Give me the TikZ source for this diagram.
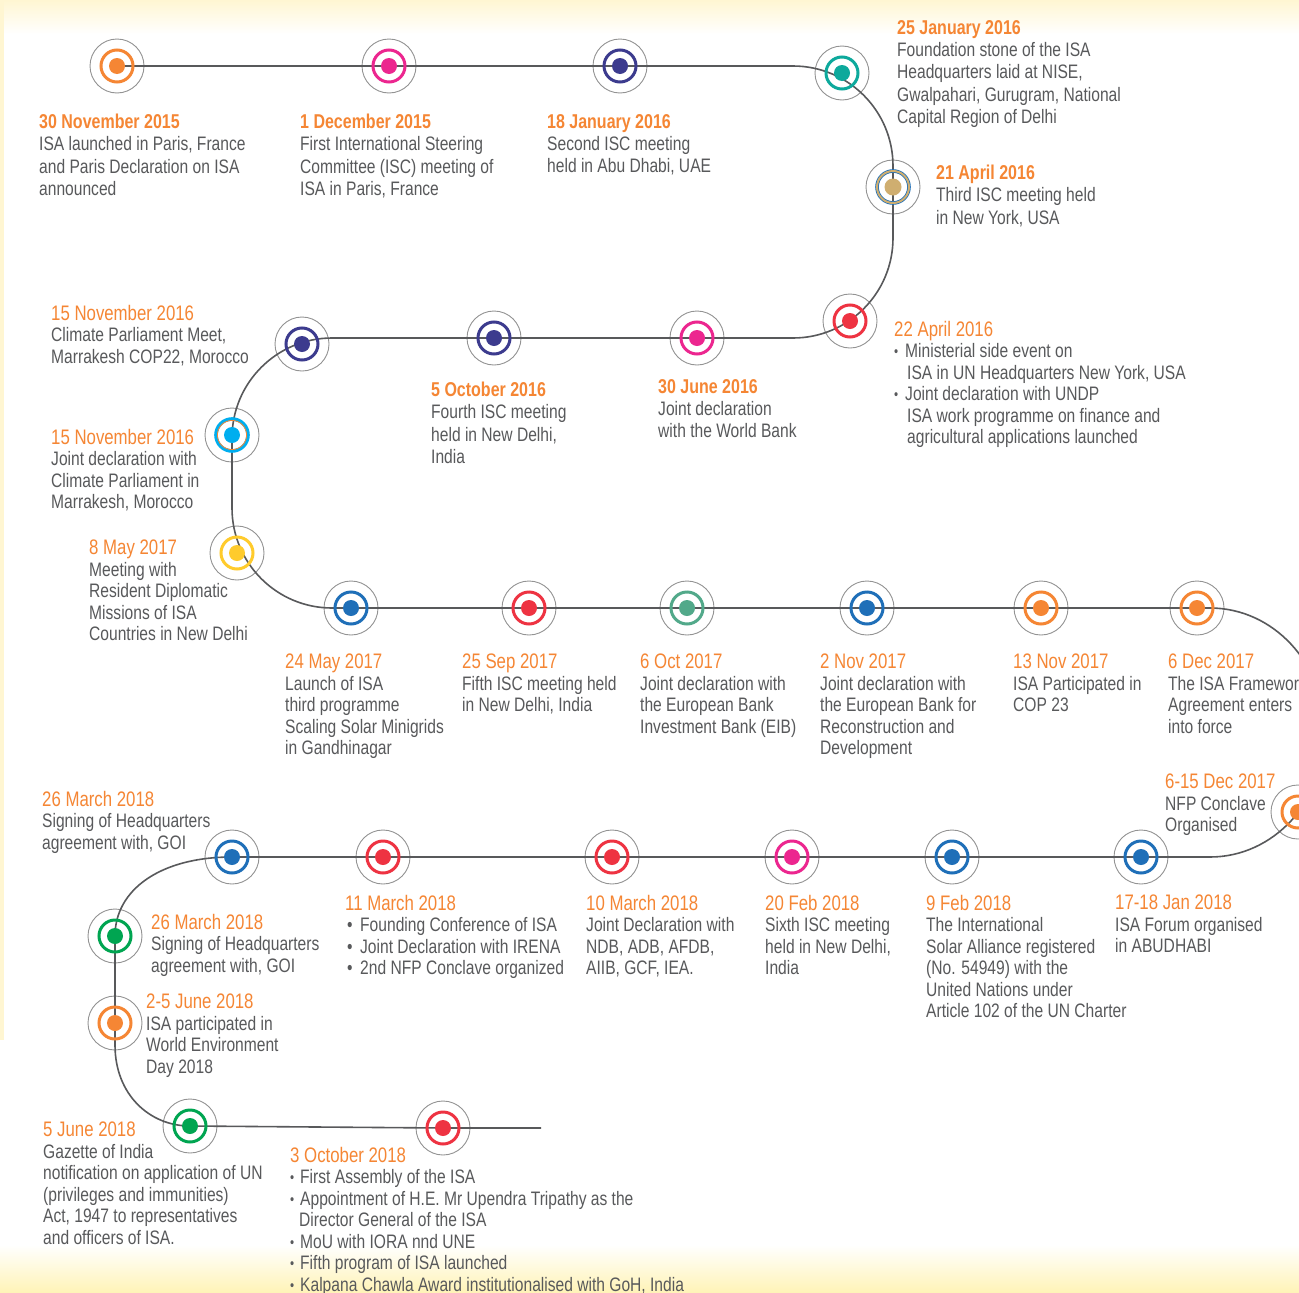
\documentclass[tikz,border=0pt]{standalone}
\usepackage{fontspec}
\setmainfont{Liberation Sans}[FakeStretch=0.8]

\definecolor{isaorange}{HTML}{F58634}
\definecolor{isagray}{HTML}{58595B}
\definecolor{isapink}{HTML}{EC268F}
\definecolor{isaindigo}{HTML}{3C3B8E}
\definecolor{isateal}{HTML}{0DA99C}
\definecolor{isatan}{HTML}{CFAE70}
\definecolor{isablue}{HTML}{1F6FB8}
\definecolor{isared}{HTML}{EE3342}
\definecolor{isacyan}{HTML}{00AEEF}
\definecolor{isayellow}{HTML}{FFCB2C}
\definecolor{isasage}{HTML}{52A98A}
\definecolor{isagreen}{HTML}{00A551}
\definecolor{isacream}{HTML}{FFF6D2}
\definecolor{isastraw}{HTML}{FFF3B6}

\tikzset{
    tline/.style={draw=isagray, line width=1.6pt},
    outring/.style={circle, draw=gray!85, line width=0.9pt, minimum size=54pt, inner sep=0pt},
    evtxt/.style={anchor=north west, inner sep=0pt, align=left, text=isagray, font=\fontsize{19.5}{22.3}\selectfont},
    evtxtb/.style={evtxt, font=\fontsize{19.5}{21.5}\selectfont},
}
\newcommand{\dtb}[1]{{\fontsize{20}{22.3}\selectfont\textcolor{isaorange}{\bfseries #1}}}
\newcommand{\dtr}[1]{{\fontsize{21}{21.5}\selectfont\textcolor{isaorange}{#1}}}
\newcommand{\bul}[1]{\makebox[#1][l]{\raisebox{1pt}{\scalebox{0.75}{\textbullet}}}}
\newcommand{\bigbul}{\makebox[15pt][l]{\hspace{2pt}\textbullet}}

\begin{document}
\begin{tikzpicture}[x=1pt,y=1pt]
        \useasboundingbox (0,0) rectangle (1299,-1293);
        \clip (0,0) rectangle (1299,-1293);
        \fill[white] (0,0) rectangle (1299,-1293);
        \shade[top color=isacream, bottom color=white] (0,0) rectangle (1299,-34);
        \shade[top color=white, bottom color=isastraw] (0,-1245) rectangle (1299,-1293);
        \fill[isacream] (0,0) rectangle (4,-1040);

        \foreach \nm/\x/\y in {n1/117/66, n2/389/66, n3/620/66, n4/842/73, n5/893/187, n6/850/321,
            n7/697/338, n8/494/338, n9/302/344, n10/232/435, n11/237/553, n12/351/608, n13/529/608,
            n14/687/608, n15/867/608, n16/1041/608, n17/1197/608, n18/1298/812, n19/1141/857,
            n20/952/857, n21/792/857, n22/612/857, n23/383/857, n24/232/857, n25/115/936,
            n26/115/1023, n27/190/1126, n28/443/1128}
            \node[outring] (\nm) at (\x,-\y) {};

        \draw[tline] (n1.center) -- (n2.center) -- (n3.center) -- (793,-66)
            arc[start angle=90, end angle=0, radius=100] -- (n5.center) -- (893,-238)
            arc[start angle=0, end angle=-90, radius=100] -- (n7.center) -- (n8.center) -- (332,-338)
            arc[start angle=90, end angle=180, radius=100] -- (n10.center) -- (232,-508)
            arc[start angle=180, end angle=270, radius=100] -- (n12.center) -- (n17.center) -- (1210,-608)
            arc[start angle=90, end angle=-90, x radius=115, y radius=124.5] -- (n19.center) -- (n24.center)
            .. controls (160,-857) and (115,-890) .. (n25.center) -- (n26.center) -- (115,-1045)
            .. controls (115,-1095) and (150,-1126) .. (n27.center) -- (n28.center) -- (541,-1128);

        \foreach \nm/\col in {n1/isaorange, n2/isapink, n3/isaindigo, n4/isateal, n6/isared, n7/isapink,
            n8/isaindigo, n9/isaindigo, n11/isayellow, n12/isablue, n13/isared, n14/isasage,
            n15/isablue, n16/isaorange, n17/isaorange, n18/isaorange, n19/isablue, n20/isablue,
            n21/isapink, n22/isared, n23/isared, n24/isablue, n25/isagreen, n26/isaorange,
            n27/isagreen, n28/isared}
        {
            \draw[\col, line width=3pt] (\nm.center) circle[radius=16];
            \fill[\col] (\nm.center) circle[radius=8];
        }
        % two-tone rings
        \draw[isablue, line width=3.6pt] (n5.center) circle[radius=16];
        \draw[isatan, line width=2pt] (n5.center) circle[radius=16];
        \fill[isatan] (n5.center) circle[radius=8.5];
        \draw[isacyan, line width=3.6pt] (n10.center) circle[radius=16];
        \draw[isaorange, line width=0.8pt] (n10.center) circle[radius=14.6];
        \fill[isacyan] (n10.center) circle[radius=8];

        \node[evtxt] (t1) at (39,-114) {\dtb{30 November 2015}\\ISA launched in Paris, France\\and Paris Declaration on ISA\\announced};
        \node[evtxt] (t2) at (300,-114) {\dtb{1 December 2015}\\First International Steering\\Committee (ISC) meeting of\\ISA in Paris, France};
        \node[evtxt] (t3) at (547,-114) {\dtb{18 January 2016}\\Second ISC meeting\\held in Abu Dhabi, UAE};
        \node[evtxt] (t4) at (897,-20) {\dtb{25 January 2016}\\Foundation stone of the ISA\\Headquarters laid at NISE,\\Gwalpahari, Gurugram, National\\Capital Region of Delhi};
        \node[evtxt] (t5) at (936,-165) {\dtb{21 April 2016}\\Third ISC meeting held\\in New York, USA};
        \node[evtxtb] (t6) at (894,-321) {\dtr{22 April 2016}\\\bul{11pt}Ministerial side event on\\\hspace*{13pt}ISA in UN Headquarters New York, USA\\\bul{11pt}Joint declaration with UNDP\\\hspace*{13pt}ISA work programme on finance and\\\hspace*{13pt}agricultural applications launched};
        \node[evtxt] (t7) at (658,-379) {\dtb{30 June 2016}\\Joint declaration\\with the World Bank};
        \node[evtxt] (t8) at (431,-382) {\dtb{5 October 2016}\\Fourth ISC meeting\\held in New Delhi,\\India};
        \node[evtxtb] (t9) at (51,-305) {\dtr{15 November 2016}\\Climate Parliament Meet,\\Marrakesh COP22, Morocco};
        \node[evtxtb] (t10) at (51,-429) {\dtr{15 November 2016}\\Joint declaration with\\Climate Parliament in\\Marrakesh, Morocco};
        \node[evtxtb] (t11) at (89,-540) {\dtr{8 May 2017}\\Meeting with\\Resident Diplomatic\\Missions of ISA\\Countries in New Delhi};
        \node[evtxtb] (t12) at (285,-654) {\dtr{24 May 2017}\\Launch of ISA\\third programme\\Scaling Solar Minigrids\\in Gandhinagar};
        \node[evtxtb] (t13) at (462,-654) {\dtr{25 Sep 2017}\\Fifth ISC meeting held\\in New Delhi, India};
        \node[evtxtb] (t14) at (640,-654) {\dtr{6 Oct 2017}\\Joint declaration with\\the European Bank\\Investment Bank (EIB)};
        \node[evtxtb] (t15) at (820,-654) {\dtr{2 Nov 2017}\\Joint declaration with\\the European Bank for\\Reconstruction and\\Development};
        \node[evtxtb] (t16) at (1013,-654) {\dtr{13 Nov 2017}\\ISA Participated in\\COP 23};
        \node[evtxtb] (t17) at (1168,-654) {\dtr{6 Dec 2017}\\The ISA Framework\\Agreement enters\\into force};
        \node[evtxtb] (t18) at (1165,-774) {\dtr{6-15 Dec 2017}\\NFP Conclave\\Organised};
        \node[evtxtb] (t19) at (1115,-895) {\dtr{17-18 Jan 2018}\\ISA Forum organised\\in ABUDHABI};
        \node[evtxtb] (t20) at (926,-895) {\dtr{9 Feb 2018}\\The International\\Solar Alliance registered\\(No. 54949) with the\\United Nations under\\Article 102 of the UN Charter};
        \node[evtxtb] (t21) at (765,-895) {\dtr{20 Feb 2018}\\Sixth ISC meeting\\held in New Delhi,\\India};
        \node[evtxtb] (t22) at (586,-895) {\dtr{10 March 2018}\\Joint Declaration with\\NDB, ADB, AFDB,\\AIIB, GCF, IEA.};
        \node[evtxtb] (t23) at (345,-895) {\dtr{11 March 2018}\\\bigbul Founding Conference of ISA\\\bigbul Joint Declaration with IRENA\\\bigbul 2nd NFP Conclave organized};
        \node[evtxtb] (t24) at (42,-791) {\dtr{26 March 2018}\\Signing of Headquarters\\agreement with, GOI};
        \node[evtxtb] (t25) at (151,-914) {\dtr{26 March 2018}\\Signing of Headquarters\\agreement with, GOI};
        \node[evtxtb] (t26) at (146,-994) {\dtr{2-5 June 2018}\\ISA participated in\\World Environment\\Day 2018};
        \node[evtxtb] (t27) at (43,-1122) {\dtr{5 June 2018}\\Gazette of India\\notification on application of UN\\(privileges and immunities)\\Act, 1947 to representatives\\and officers of ISA.};
        \node[evtxtb] (t28) at (290,-1147) {\dtr{3 October 2018}\\\bul{10pt}First Assembly of the ISA\\\bul{10pt}Appointment of H.E. Mr Upendra Tripathy as the\\\hspace*{9pt}Director General of the ISA\\\bul{10pt}MoU with IORA nnd UNE\\\bul{10pt}Fifth program of ISA launched\\\bul{10pt}Kalpana Chawla Award institutionalised with GoH, India};
\end{tikzpicture}
\end{document}
